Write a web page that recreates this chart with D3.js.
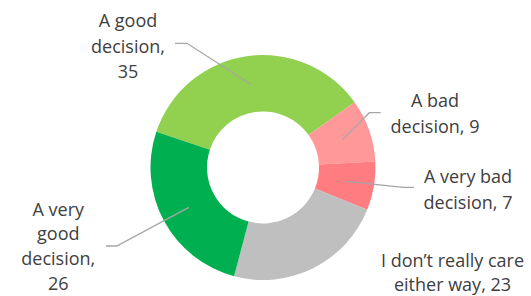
<!DOCTYPE html>
<html>
<head>
<meta charset="utf-8">
<script src="https://cdn.jsdelivr.net/npm/d3@7"></script>
<style>
  body { margin: 0; background: #fff; }
  svg { display: block; }
</style>
</head>
<body>
<svg id="canvas"></svg>
<script>
// chart data, clockwise from the light green slice
let categories = ["A good decision", "A bad decision", "A very bad decision", "I don\u2019t really care either way", "A very good decision"];
let values = [35, 9, 7, 23, 26];
let labelLines = [
    ["A good", "decision,", "35"],
    ["A bad", "decision, 9"],
    ["A very bad", "decision, 7"],
    ["I don\u2019t really care", "either way, 23"],
    ["A very", "good", "decision,", "26"]
];

let colors = ["#92D050", "#FF9999", "#FF7C80", "#BFBFBF", "#00B050"];

// where each label sits (text centre x, first baseline, line step) and where its leader bends / ends
let labelLayout = [
    {x: 128, y: 26.7, step: 25.8, elbow: [187, 43.3], end: [175, 43.3]},
    {x: 435, y: 107.3, step: 25.8, elbow: [369.3, 112.7], end: [380.7, 112.7]},
    {x: 468, y: 182.7, step: 25.8, elbow: [403.3, 187.3], end: [414, 187.3]},
    {x: 452.5, y: 266.5, step: 24.8, elbow: null, end: null},
    {x: 58.3, y: 215.5, step: 24.9, elbow: [116.7, 246], end: [106, 246]}
];

let width = 531;
let height = 296;
let cx = 263;
let cy = 167.5;
let outerR = 112.5;
let innerR = 56;

let canvas = d3.select("#canvas");
canvas.attr("width", width);
canvas.attr("height", height);

let startDeg = -71.5;
let pie = d3.pie()
            .sort(null)
            .value(d => d)
            .startAngle(startDeg * Math.PI / 180)
            .endAngle((startDeg + 360) * Math.PI / 180);

let arc = d3.arc()
            .innerRadius(innerR)
            .outerRadius(outerR);

let arcs = pie(values);

let g = canvas.append("g")
              .attr("transform", "translate(" + cx + "," + cy + ")");

g.selectAll("path")
 .data(arcs)
 .enter()
 .append("path")
 .attr("d", arc)
 .attr("fill", (d, i) => colors[i]);

// leader lines from slice centroid
arcs.forEach((d, i) => {
    let lay = labelLayout[i];
    if (!lay.elbow) return;
    let c = arc.centroid(d);
    let pts = [[cx + c[0], cy + c[1]], lay.elbow, lay.end];
    canvas.append("path")
          .attr("d", d3.line()(pts))
          .attr("fill", "none")
          .attr("stroke", "#A6A6A6")
          .attr("stroke-width", 1.3);
});

// labels
labelLines.forEach((lines, i) => {
    let lay = labelLayout[i];
    let t = canvas.append("text")
                  .attr("text-anchor", "middle")
                  .attr("font-family", "'Open Sans', sans-serif")
                  .attr("font-size", 18)
                  .attr("fill", "#404040");
    lines.forEach((s, j) => {
        t.append("tspan")
         .attr("x", lay.x)
         .attr("y", lay.y + j * lay.step)
         .text(s);
    });
});
</script>
</body>
</html>
